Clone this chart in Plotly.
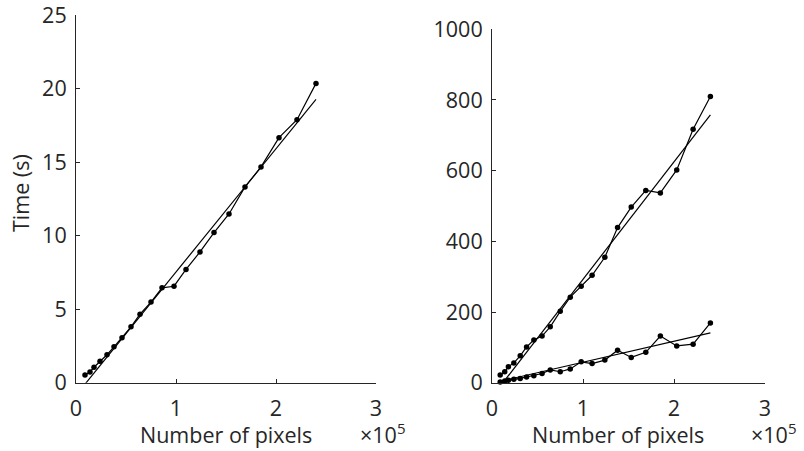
import plotly.graph_objects as go

W, H = 804, 451

# number of pixels (same sizes for all series)
n_pixels = [9000, 14000, 18000, 24000, 31000, 38000, 46000, 55000, 64000, 75000, 86000,
            98000, 110000, 124000, 138000, 153000, 169000, 185000, 203000, 221000, 240000]

# left panel: time (s)
time_left = [0.52, 0.73, 1.05, 1.45, 1.90, 2.44, 3.05, 3.80, 4.66, 5.48, 6.45,
             6.56, 7.70, 8.89, 10.21, 11.47, 13.31, 14.67, 16.66, 17.88, 20.35]
fit_x = [9000, 240000]
fit_left = [-0.1, 19.26]

# right panel: two series (s)
time_right_upper = [21.7, 31, 45, 56, 76, 101, 121, 132, 158, 202, 242,
                    273, 304, 355, 439, 497, 544, 537, 602, 717, 810]
time_right_lower = [2, 5, 7, 9.5, 12, 16, 20, 26, 36, 31, 39,
                    59, 54, 64, 92, 71.5, 86, 132, 104, 109, 169]
fit_right_upper = [-10, 758]
fit_right_lower = [4, 141]

x_tickvals = [0, 100000, 200000, 300000]
x_ticktext = ["0", "1", "2", "3"]
left_yticks = [0, 5, 10, 15, 20, 25]
right_yticks = [0, 200, 400, 600, 800, 1000]

INK = "#262626"
FONT = "Open Sans"
FS = 21.5

fig = go.Figure()

def add_series(x, y, xa, ya):
    fig.add_trace(go.Scatter(x=x, y=y, mode="lines+markers", xaxis=xa, yaxis=ya,
                             line=dict(color="black", width=1.2),
                             marker=dict(color="black", size=5.5), showlegend=False,
                             cliponaxis=False))

def add_fit(x, y, xa, ya):
    fig.add_trace(go.Scatter(x=x, y=y, mode="lines", xaxis=xa, yaxis=ya,
                             line=dict(color="black", width=1.2), showlegend=False))

add_fit(fit_x, fit_left, "x", "y")
add_series(n_pixels, time_left, "x", "y")
add_fit(fit_x, fit_right_upper, "x2", "y2")
add_fit(fit_x, fit_right_lower, "x2", "y2")
add_series(n_pixels, time_right_upper, "x2", "y2")
add_series(n_pixels, time_right_lower, "x2", "y2")

axis_common = dict(showline=True, linecolor=INK, linewidth=1, ticks="inside", ticklen=4,
                   tickcolor=INK, tickwidth=1, showgrid=False, zeroline=False,
                   automargin=False, ticklabeloverflow="allow",
                   tickfont=dict(family=FONT, size=FS, color=INK))

def px_x(p):
    return p / W

def px_y(p):
    return 1 - p / H

fig.update_layout(
    width=W, height=H, margin=dict(l=0, r=0, t=0, b=0, autoexpand=False),
    paper_bgcolor="white", plot_bgcolor="white",
    xaxis=dict(domain=[px_x(76), px_x(376)], range=[0, 300000], anchor="y",
               tickvals=x_tickvals, ticktext=x_ticktext, ticklabelstandoff=6, **axis_common),
    yaxis=dict(domain=[px_y(382.7), px_y(15)], range=[0, 25], anchor="x",
               tickvals=left_yticks, ticklabelstandoff=4, **axis_common),
    xaxis2=dict(domain=[px_x(492), px_x(765)], range=[0, 300000], anchor="y2",
                tickvals=x_tickvals, ticktext=x_ticktext, ticklabelstandoff=6, **axis_common),
    yaxis2=dict(domain=[px_y(382.7), px_y(29.3)], range=[0, 1000], anchor="x2",
                tickvals=right_yticks, ticklabelstandoff=4, **axis_common),
)

ann_font = dict(family=FONT, size=FS, color=INK)
fig.add_annotation(text="Time (s)", xref="paper", yref="paper", x=px_x(20), y=px_y(193),
                   textangle=-90, showarrow=False, font=ann_font, xanchor="center", yanchor="middle")
for cx in (225.7, 617.5):
    fig.add_annotation(text="Number of pixels", xref="paper", yref="paper", x=px_x(cx), y=0,
                       showarrow=False, font=ann_font, xanchor="center", yanchor="bottom")
for lx in (358, 749):
    fig.add_annotation(text="×10<sup>5</sup>", xref="paper", yref="paper", x=px_x(lx), y=0,
                       showarrow=False, font=ann_font, xanchor="left", yanchor="bottom")

fig.write_html("out.html")
